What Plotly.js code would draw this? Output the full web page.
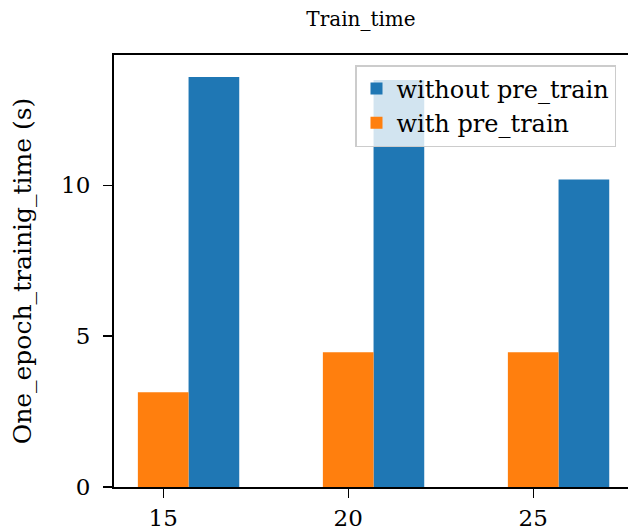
<!DOCTYPE html>
<html>
<head>
<meta charset="utf-8">
<script src="https://cdn.plot.ly/plotly-3.0.1.min.js"></script>
<style>
html,body{margin:0;padding:0;overflow:hidden;background:#fff;}
#chart{width:660px;height:531px;}
</style>
</head>
<body>
<div id="chart"></div>
<script>
const epochs = [15, 20, 25];
const withoutPretrain = [13.58, 13.48, 10.19];
const withPretrain = [3.14, 4.46, 4.46];
const seriesNames = ["without pre_train", "with pre_train"];
const yTicks = [0, 5, 10];

const W = 1.37;
const FONT = "DejaVu Serif, Liberation Serif, serif";

const traces = [
  {
    type: "bar", name: seriesNames[0], x: epochs, y: withoutPretrain,
    width: W, offset: W / 2,
    marker: {color: "#1f77b4", line: {width: 0}}
  },
  {
    type: "bar", name: seriesNames[1], x: epochs, y: withPretrain,
    width: W, offset: -W / 2,
    marker: {color: "#ff7f0e", line: {width: 0}}
  }
];

const layout = {
  width: 660, height: 531,
  margin: {l: 114, r: 0, t: 55, b: 44, pad: 0},
  paper_bgcolor: "#fff", plot_bgcolor: "#fff",
  font: {family: FONT, size: 24, color: "#000"},
  barmode: "overlay",
  title: {text: "Train_time", xref: "container", x: 361 / 660, xanchor: "center",
          yref: "container", y: 1 - 19 / 531, yanchor: "middle", font: {family: FONT, size: 20}},
  xaxis: {
    range: [13.67, 13.67 + 546 / 37],
    tickvals: epochs, ticktext: epochs.map(String),
    ticks: "outside", ticklen: 9, tickwidth: 1.2, tickcolor: "#000",
    showline: true, linecolor: "#000", linewidth: 2, mirror: true,
    showgrid: false, zeroline: false,
    tickfont: {family: FONT, size: 23}
  },
  yaxis: {
    range: [0, 14.31],
    tickvals: yTicks, ticktext: yTicks.map(String),
    ticks: "outside", ticklen: 9, tickwidth: 1.2, tickcolor: "#000",
    ticklabelstandoff: 8,
    showline: true, linecolor: "#000", linewidth: 2, mirror: true,
    showgrid: false, zeroline: false,
    tickfont: {family: FONT, size: 23},
    title: {text: "One_epoch_trainig_time (s)", font: {family: FONT, size: 25}, standoff: 22}
  },
  legend: {
    x: (355 - 114) / 546, y: (487 - 65) / 432, xanchor: "left", yanchor: "top",
    bgcolor: "rgba(255,255,255,0.8)", bordercolor: "#cccccc", borderwidth: 1.5,
    font: {family: FONT, size: 24}, tracegroupgap: 0, itemwidth: 30
  },
  showlegend: true
};

Plotly.newPlot("chart", traces, layout, {displayModeBar: false, staticPlot: true});
</script>
</body>
</html>
